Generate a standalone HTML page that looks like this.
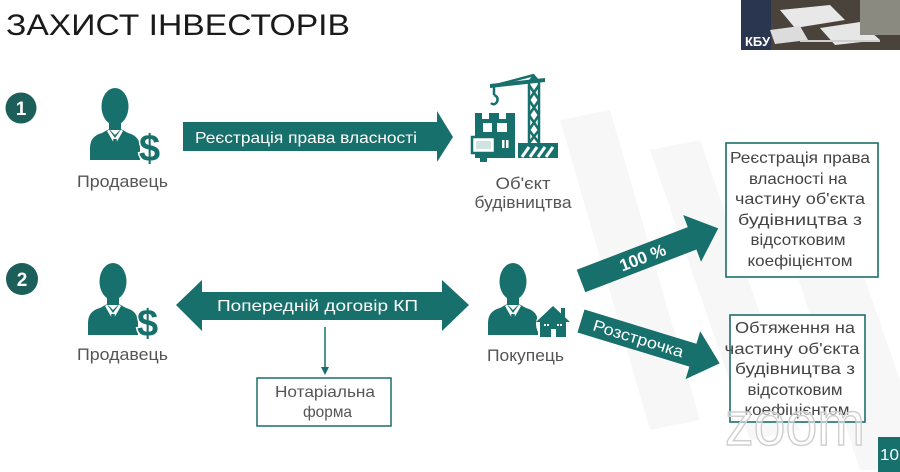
<!DOCTYPE html>
<html><head><meta charset="utf-8"><style>
html,body{margin:0;padding:0;background:#fff;}
svg{display:block;}
text{font-family:"Liberation Sans","DejaVu Sans",sans-serif;}
</style></head><body>
<svg width="900" height="472" viewBox="0 0 900 472" xmlns="http://www.w3.org/2000/svg">
<defs>
<g id="person">
  <ellipse cx="25" cy="18.5" rx="13.5" ry="18.5" fill="#17706b"/>
  <rect x="19" y="28" width="12" height="14" fill="#17706b"/>
  <path d="M0,72 L0,60 Q0,48 12,45 L19,41 L25,47 L31,41 L38,45 Q50,48 50,60 L50,72 Z" fill="#17706b"/>
  <polygon points="17,43 25,57 33,43 31,41.5 25,50 19,41.5" fill="#fff"/>
  <polygon points="23.3,51 26.7,51 27.8,65 25,71 22.2,65" fill="#17706b"/>
</g>
</defs>

<!-- faint background shapes -->
<g fill="#f7f7f7">
  <polygon points="560,120 610,110 700,420 650,430"/>
  <polygon points="650,150 700,140 800,430 750,440"/>
  <polygon points="760,160 820,150 900,380 900,470 860,470"/>
</g>

<!-- title -->
<text x="6" y="35" font-size="30" fill="#1a1a1a" textLength="344" lengthAdjust="spacingAndGlyphs">ЗАХИСТ ІНВЕСТОРІВ</text>

<!-- video thumbnail -->
<rect x="741" y="0" width="159" height="50" fill="#4a433c"/>
<rect x="741" y="0" width="30" height="50" fill="#2a3550"/>
<polygon points="780,10 830,5 845,20 795,28" fill="#e8e8e8"/>
<polygon points="820,28 860,22 880,40 835,45" fill="#e6e6e6"/>
<polygon points="770,30 800,26 808,40 775,44" fill="#dcdcdc"/>
<rect x="860" y="0" width="40" height="35" fill="#8a8a80"/>
<rect x="800" y="40" width="80" height="2" fill="#cfcfcf"/>
<text x="745" y="46" font-size="13" font-weight="bold" fill="#fff">КБУ</text>

<!-- numbered circles -->
<circle cx="21" cy="108" r="15.5" fill="#1b5e5a"/>
<text x="21" y="115" font-size="19" font-weight="bold" fill="#fff" text-anchor="middle">1</text>
<circle cx="22" cy="279" r="16" fill="#1b5e5a"/>
<text x="22" y="286" font-size="19" font-weight="bold" fill="#fff" text-anchor="middle">2</text>

<!-- seller 1 -->
<use href="#person" x="90" y="88"/>
<text x="139" y="161" font-size="38" font-weight="bold" fill="#17706b" stroke="#fff" stroke-width="3" paint-order="stroke">$</text>
<text x="77" y="187" font-size="17" fill="#555" textLength="91" lengthAdjust="spacingAndGlyphs">Продавець</text>

<!-- arrow 1 -->
<polygon points="183,122 437,122 437,111 453,137 437,162 437,151 183,151" fill="#17706b"/>
<text x="195" y="143" font-size="16" fill="#fff" textLength="222" lengthAdjust="spacingAndGlyphs">Реєстрація права власності</text>

<!-- building icon -->
<g>
  <g stroke="#17706b" stroke-width="2.5" fill="none">
    <line x1="529" y1="80" x2="529" y2="145"/>
    <line x1="539" y1="80" x2="539" y2="145"/>
    <line x1="529" y1="85" x2="539" y2="100"/>
    <line x1="539" y1="85" x2="529" y2="100"/>
    <line x1="529" y1="100" x2="539" y2="115"/>
    <line x1="539" y1="100" x2="529" y2="115"/>
    <line x1="529" y1="115" x2="539" y2="130"/>
    <line x1="539" y1="115" x2="529" y2="130"/>
    <line x1="529" y1="130" x2="539" y2="143"/>
    <line x1="539" y1="130" x2="529" y2="143"/>
    <line x1="534" y1="75" x2="500" y2="84"/>
    <line x1="494" y1="86" x2="494" y2="95"/>
  </g>
  <polygon points="490,84 545,78 545,82 490,88" fill="#17706b"/>
  <polygon points="529,80 534,74 539,80" fill="#17706b"/>
  <path d="M494,95 q5,2 3,7 q-3,4 -6,1" stroke="#17706b" stroke-width="2.5" fill="none"/>
  <polygon points="475,158 475,113 482,113 482,119 489,119 489,113 499,113 499,119 506,119 506,113 515,113 515,158" fill="#17706b"/>
  <rect x="483" y="123" width="9" height="9" fill="#fff"/>
  <rect x="497" y="123" width="10" height="9" fill="#fff"/>
  <rect x="502" y="140" width="2.5" height="8" fill="#fff"/>
  <rect x="506" y="140" width="2.5" height="8" fill="#fff"/>
  <rect x="472" y="137" width="23" height="16" fill="#fff" stroke="#17706b" stroke-width="2.5"/>
  <rect x="476" y="141" width="15" height="8" fill="#cfe3e1"/>
  <rect x="480" y="153" width="7" height="9" fill="#17706b"/>
  <rect x="518" y="143" width="40" height="15" fill="#17706b"/>
  <g stroke="#fff" stroke-width="3">
    <line x1="522" y1="157" x2="529" y2="147"/>
    <line x1="530" y1="157" x2="537" y2="147"/>
    <line x1="538" y1="157" x2="545" y2="147"/>
    <line x1="546" y1="157" x2="553" y2="147"/>
  </g>
</g>
<text x="523" y="189" font-size="17" fill="#555" text-anchor="middle" textLength="55" lengthAdjust="spacingAndGlyphs">Об'єкт</text>
<text x="523" y="208" font-size="17" fill="#555" text-anchor="middle" textLength="97" lengthAdjust="spacingAndGlyphs">будівництва</text>

<!-- box 1 -->
<rect x="726" y="143" width="152" height="134" fill="#fff" stroke="#1b6e69" stroke-width="1.6"/>
<g font-size="16" fill="#444" text-anchor="middle">
  <text x="800" y="163" textLength="140" lengthAdjust="spacingAndGlyphs">Реєстрація права</text>
  <text x="798" y="184" textLength="98" lengthAdjust="spacingAndGlyphs">власності на</text>
  <text x="800" y="204" textLength="130" lengthAdjust="spacingAndGlyphs">частину об'єкта</text>
  <text x="800" y="225" textLength="124" lengthAdjust="spacingAndGlyphs">будівництва з</text>
  <text x="798" y="245" textLength="95" lengthAdjust="spacingAndGlyphs">відсотковим</text>
  <text x="800" y="266" textLength="105" lengthAdjust="spacingAndGlyphs">коефіцієнтом</text>
</g>

<!-- seller 2 -->
<use href="#person" x="88" y="263"/>
<text x="137" y="336" font-size="38" font-weight="bold" fill="#17706b" stroke="#fff" stroke-width="3" paint-order="stroke">$</text>
<text x="77" y="360" font-size="17" fill="#555" textLength="91" lengthAdjust="spacingAndGlyphs">Продавець</text>

<!-- double arrow -->
<polygon points="176,305 202,280 202,292 442,292 442,280 469,305 442,331 442,320 202,320 202,331" fill="#17706b"/>
<text x="217" y="311" font-size="16" fill="#fff" textLength="201" lengthAdjust="spacingAndGlyphs">Попередній договір КП</text>

<!-- down arrow to notarial -->
<line x1="325" y1="327" x2="325" y2="370" stroke="#17706b" stroke-width="1.5"/>
<polygon points="321,367 329,367 325,375" fill="#17706b"/>
<rect x="257" y="378" width="134" height="48" fill="#fff" stroke="#1b6e69" stroke-width="1.5"/>
<text x="275" y="397" font-size="16" fill="#555" textLength="100" lengthAdjust="spacingAndGlyphs">Нотаріальна</text>
<text x="303" y="417" font-size="16" fill="#555" textLength="49" lengthAdjust="spacingAndGlyphs">форма</text>

<!-- buyer -->
<use href="#person" x="488" y="263"/>
<g>
  <circle cx="553" cy="324" r="17" fill="#fff"/>
  <polygon points="553,306 536,322 570,322" fill="#17706b"/>
  <rect x="561" y="308" width="4" height="9" fill="#17706b"/>
  <rect x="540" y="320" width="26" height="17" fill="#17706b"/>
  <rect x="544" y="324" width="2" height="2" fill="#fff"/>
  <rect x="547" y="324" width="2" height="2" fill="#fff"/>
  <rect x="557" y="324" width="2" height="2" fill="#fff"/>
  <rect x="560" y="324" width="2" height="2" fill="#fff"/>
  <rect x="551" y="329" width="5" height="8" fill="#fff"/>
</g>
<text x="487" y="361" font-size="17" fill="#555" textLength="77" lengthAdjust="spacingAndGlyphs">Покупець</text>

<!-- arrow 100% -->
<g transform="translate(581,281) rotate(-21)">
  <polygon points="0,-12 119,-12 119,-25 147,0 119,25 119,12 0,12" fill="#17706b"/>
  <text x="66" y="6" font-size="17" font-weight="bold" fill="#fff" text-anchor="middle">100 %</text>
</g>

<!-- arrow Розстрочка -->
<g transform="translate(581,321) rotate(17)">
  <polygon points="0,-12 117,-12 117,-25 145,0 117,25 117,12 0,12" fill="#17706b"/>
  <text x="60" y="5.5" font-size="16" fill="#fff" text-anchor="middle" textLength="94" lengthAdjust="spacingAndGlyphs">Розстрочка</text>
</g>

<!-- box 2 -->
<rect x="730" y="315" width="135" height="107" fill="#fff" stroke="#1b6e69" stroke-width="1.6"/>
<g font-size="16" fill="#444" text-anchor="middle">
  <text x="795" y="333" textLength="120" lengthAdjust="spacingAndGlyphs">Обтяження на</text>
  <text x="792" y="354" textLength="135" lengthAdjust="spacingAndGlyphs">частину об'єкта</text>
  <text x="795" y="374" textLength="120" lengthAdjust="spacingAndGlyphs">будівництва з</text>
  <text x="795" y="395" textLength="95" lengthAdjust="spacingAndGlyphs">відсотковим</text>
  <text x="797" y="415" textLength="105" lengthAdjust="spacingAndGlyphs">коефіцієнтом</text>
</g>

<!-- zoom watermark -->
<text x="725" y="445" font-size="62" fill="rgba(255,255,255,0.5)" stroke="#cfcfcf" stroke-width="1.5" textLength="140" lengthAdjust="spacingAndGlyphs">zoom</text>

<!-- page number -->
<rect x="878" y="437" width="22" height="35" fill="#17706b"/>
<text x="880" y="460" font-size="16" fill="#fff" textLength="19" lengthAdjust="spacingAndGlyphs">10</text>
</svg>
</body></html>
